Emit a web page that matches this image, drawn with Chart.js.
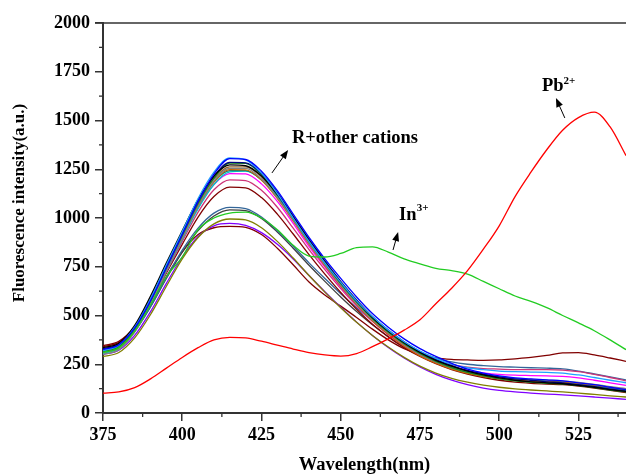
<!DOCTYPE html>
<html>
<head>
<meta charset="utf-8">
<script src="https://cdn.jsdelivr.net/npm/chart.js@4.4.1/dist/chart.umd.min.js"></script>
<style>
  html, body { margin: 0; padding: 0; background: #fff; }
  #wrap { width: 626px; height: 476px; position: relative; }
</style>
</head>
<body>
<div id="wrap"><canvas id="chart" width="626" height="476"></canvas></div>
<script>
// wavelength grid (nm)
const wavelengths = [375, 380, 385, 390, 395, 400, 405, 410, 415, 420, 425, 430, 435, 440, 445, 450, 455, 460,
    465, 470, 475, 480, 485, 490, 495, 500, 505, 510, 515, 520, 525, 530, 535, 540];

// R + Pb2+ and R + In3+
const pb = [102, 108, 130, 175, 230, 285, 335, 375, 388, 385, 368, 348, 328, 310, 298, 292, 305, 340,
    380, 425, 478, 560, 640, 730, 840, 960, 1110, 1235, 1350, 1450, 1515, 1543, 1467, 1320];
const inIII = [310, 335, 420, 555, 700, 800, 940, 1000, 1025, 1030, 1000, 940, 860, 805, 800, 818, 848, 852,
    825, 790, 765, 742, 730, 712, 675, 637, 600, 572, 540, 500, 462, 422, 375, 325];

// R + other cations
const other1 = [325, 350, 435, 575, 745, 915, 1085, 1225, 1305, 1300, 1240, 1140, 1020, 900, 790, 690, 595, 510,
    440, 380, 330, 290, 255, 225, 205, 190, 180, 175, 170, 165, 155, 145, 132, 120];
const other2 = [320, 348, 440, 585, 760, 930, 1100, 1235, 1308, 1298, 1230, 1125, 1000, 880, 770, 670, 575, 495,
    425, 365, 318, 280, 250, 232, 222, 215, 212, 210, 208, 205, 195, 182, 168, 155];
const other3 = [335, 358, 450, 600, 770, 935, 1095, 1215, 1272, 1268, 1215, 1120, 1005, 885, 775, 670, 575, 490,
    420, 360, 310, 270, 240, 215, 195, 180, 168, 160, 155, 150, 142, 132, 120, 110];
const other4 = [330, 352, 440, 585, 755, 920, 1085, 1215, 1285, 1283, 1228, 1130, 1010, 890, 780, 675, 580, 495,
    425, 365, 315, 275, 243, 218, 200, 185, 175, 168, 160, 155, 145, 135, 122, 112];
const other5 = [315, 340, 430, 575, 745, 910, 1075, 1205, 1282, 1280, 1222, 1122, 1000, 880, 770, 665, 570, 485,
    415, 355, 305, 265, 233, 208, 190, 175, 165, 158, 152, 148, 140, 130, 118, 108];
const other6 = [300, 325, 415, 560, 730, 895, 1060, 1190, 1255, 1255, 1200, 1105, 990, 870, 760, 655, 560, 478,
    410, 350, 300, 262, 232, 210, 195, 185, 178, 172, 168, 165, 157, 147, 135, 125];
const other7 = [310, 335, 422, 565, 735, 900, 1060, 1185, 1248, 1247, 1195, 1100, 985, 865, 755, 650, 555, 472,
    402, 342, 293, 255, 225, 203, 187, 175, 168, 163, 160, 158, 152, 143, 132, 122];
const other8 = [320, 345, 432, 575, 742, 905, 1062, 1185, 1243, 1243, 1195, 1105, 992, 875, 765, 662, 568, 485,
    415, 355, 305, 265, 235, 212, 196, 185, 176, 170, 165, 160, 152, 142, 130, 118];
const other9 = [305, 330, 418, 560, 728, 890, 1048, 1172, 1236, 1240, 1198, 1112, 1000, 882, 772, 668, 572, 488,
    418, 357, 307, 267, 236, 212, 195, 183, 173, 166, 160, 155, 146, 135, 123, 110];
const other10 = [318, 342, 428, 568, 735, 895, 1052, 1172, 1228, 1226, 1175, 1085, 972, 855, 748, 645, 552, 470,
    402, 345, 298, 262, 236, 218, 206, 198, 194, 192, 190, 188, 180, 168, 155, 142];
const other11 = [325, 348, 432, 565, 725, 880, 1030, 1145, 1196, 1192, 1142, 1055, 948, 838, 735, 638, 550, 472,
    405, 350, 305, 270, 248, 235, 228, 225, 222, 222, 222, 220, 212, 198, 182, 165];
const other12 = [340, 362, 440, 565, 718, 865, 1005, 1110, 1158, 1155, 1105, 1020, 918, 812, 712, 618, 532, 455,
    390, 335, 290, 253, 223, 200, 182, 168, 158, 152, 148, 145, 138, 128, 116, 105];
const other13 = [315, 338, 418, 545, 695, 835, 948, 1025, 1055, 1048, 1005, 935, 855, 770, 690, 612, 540, 473,
    412, 358, 315, 282, 262, 250, 243, 238, 235, 232, 230, 226, 215, 200, 185, 170];
const other14 = [320, 342, 420, 545, 690, 825, 935, 1010, 1042, 1038, 998, 928, 845, 758, 675, 595, 520, 452,
    392, 340, 296, 260, 232, 210, 193, 180, 170, 163, 158, 155, 148, 138, 127, 116];
const other15 = [290, 310, 385, 505, 650, 790, 900, 970, 995, 990, 950, 880, 795, 705, 620, 540, 465, 398,
    338, 285, 240, 205, 178, 158, 143, 132, 124, 118, 113, 108, 102, 95, 88, 82];
const other16 = [300, 322, 398, 520, 665, 800, 905, 960, 972, 962, 925, 865, 790, 705, 622, 542, 466, 398,
    336, 282, 236, 198, 168, 145, 128, 116, 108, 102, 97, 93, 88, 82, 76, 70];
const other17 = [345, 368, 442, 560, 700, 825, 915, 950, 957, 952, 915, 845, 760, 672, 605, 548, 490, 430,
    375, 330, 300, 283, 275, 272, 270, 272, 278, 285, 295, 308, 310, 298, 282, 265];
const other18 = [328, 350, 438, 582, 752, 915, 1075, 1200, 1262, 1262, 1210, 1115, 998, 878, 768, 662, 566, 482,
    412, 352, 302, 263, 232, 208, 190, 177, 168, 162, 158, 156, 150, 140, 128, 118];

const otherSeries = [other1, other2, other3, other4, other5, other6, other7, other8, other9,
    other10, other11, other12, other13, other14, other15, other16, other17, other18];
const otherColors = ['#0000ff', '#1fa0ff', '#000000', '#000080', '#1a8a1a', '#808080', '#cc6600', '#008080', '#00c8c8',
    '#ff00ff', '#cc3377', '#800000', '#336699', '#404040', '#808000', '#8000ff', '#800000', '#996633'];

const xTicks = [375, 400, 425, 450, 475, 500, 525];
const yTicks = [0, 250, 500, 750, 1000, 1250, 1500, 1750, 2000];

function toPoints(values) {
    return wavelengths.map((w, i) => ({ x: w, y: values[i] }));
}

const datasets = [
    { label: 'Pb2+', data: toPoints(pb), borderColor: '#ff0000' },
    { label: 'In3+', data: toPoints(inIII), borderColor: '#22cc22' }
];
otherSeries.forEach((s, i) => {
    datasets.push({ label: 'R+other ' + (i + 1), data: toPoints(s), borderColor: otherColors[i] });
});
datasets.forEach(d => {
    d.borderWidth = 1.3;
    d.pointRadius = 0;
    d.fill = false;
    d.cubicInterpolationMode = 'monotone';
});

const serif = '"Liberation Serif", "Times New Roman", serif';

// minor ticks, top frame line, y title
const framePlugin = {
    id: 'frame',
    afterDraw(chart) {
        const { ctx, scales, chartArea } = chart;
        ctx.save();
        ctx.strokeStyle = '#333';
        ctx.lineWidth = 1.5;
        ctx.beginPath();
        ctx.moveTo(chartArea.left - 8, chartArea.top);
        ctx.lineTo(chartArea.right, chartArea.top);
        ctx.stroke();

        ctx.lineWidth = 1.3;
        for (let v = 387.5; v < 540; v += 25) {
            const x = scales.x.getPixelForValue(v);
            ctx.beginPath();
            ctx.moveTo(x, chartArea.bottom);
            ctx.lineTo(x, chartArea.bottom + 4);
            ctx.stroke();
        }
        for (let v = 125; v < 2000; v += 250) {
            const y = scales.y.getPixelForValue(v);
            ctx.beginPath();
            ctx.moveTo(chartArea.left, y);
            ctx.lineTo(chartArea.left - 4, y);
            ctx.stroke();
        }

        // y axis title, sits a bit above the plot centre like the original
        ctx.translate(20, 203);
        ctx.rotate(-Math.PI / 2);
        ctx.fillStyle = '#000';
        ctx.font = 'bold 17px ' + serif;
        ctx.textAlign = 'center';
        ctx.textBaseline = 'middle';
        ctx.fillText('Fluorescence intensity(a.u.)', 0, 0);
        ctx.restore();
    }
};

// text labels with arrows
const labelPlugin = {
    id: 'labels',
    afterDatasetsDraw(chart) {
        const { ctx, scales } = chart;
        const px = v => scales.x.getPixelForValue(v);
        const py = v => scales.y.getPixelForValue(v);

        function arrow(x1, y1, x2, y2) {
            const a = Math.atan2(y2 - y1, x2 - x1);
            ctx.beginPath();
            ctx.moveTo(x1, y1);
            ctx.lineTo(x2 - 6 * Math.cos(a), y2 - 6 * Math.sin(a));
            ctx.stroke();
            ctx.beginPath();
            ctx.moveTo(x2, y2);
            ctx.lineTo(x2 - 9 * Math.cos(a) + 3.5 * Math.sin(a), y2 - 9 * Math.sin(a) - 3.5 * Math.cos(a));
            ctx.lineTo(x2 - 9 * Math.cos(a) - 3.5 * Math.sin(a), y2 - 9 * Math.sin(a) + 3.5 * Math.cos(a));
            ctx.closePath();
            ctx.fill();
        }

        ctx.save();
        ctx.fillStyle = '#000';
        ctx.strokeStyle = '#000';
        ctx.lineWidth = 1;
        ctx.textBaseline = 'middle';
        ctx.textAlign = 'left';

        ctx.font = 'bold 18.5px ' + serif;
        ctx.fillText('R+other cations', px(434.6), py(1410));
        arrow(px(428.3), py(1231), px(433.4), py(1349));

        ctx.fillText('In', px(468.4), py(1015));
        ctx.font = 'bold 11px ' + serif;
        ctx.fillText('3+', px(474.0), py(1048));
        arrow(px(466.5), py(836), px(468.1), py(928));

        ctx.font = 'bold 18.5px ' + serif;
        ctx.fillText('Pb', px(513.5), py(1677));
        ctx.font = 'bold 11px ' + serif;
        ctx.fillText('2+', px(520.3), py(1700));
        arrow(px(520.7), py(1513), px(517.9), py(1615));
        ctx.restore();
    }
};

new Chart(document.getElementById('chart'), {
    type: 'line',
    data: { datasets },
    options: {
        responsive: false,
        animation: false,
        layout: { padding: { top: 23, right: 0, left: 0, bottom: 0 } },
        plugins: { legend: { display: false }, tooltip: { enabled: false } },
        scales: {
            x: {
                type: 'linear',
                min: 375,
                max: 540,
                afterFit(s) { s.height = 63; },
                afterBuildTicks(s) { s.ticks = xTicks.map(v => ({ value: v })); },
                ticks: { color: '#000', font: { family: serif, size: 18, weight: 'bold' }, padding: 4, maxRotation: 0,
                    callback: v => String(v) },
                grid: { drawOnChartArea: false, drawTicks: true, tickLength: 8, color: '#333', lineWidth: 1.5 },
                border: { display: true, color: '#333', width: 2 },
                title: { display: true, text: 'Wavelength(nm)', color: '#000',
                    font: { family: serif, size: 18.5, weight: 'bold' }, padding: { top: 4, bottom: 0 } }
            },
            y: {
                min: 0,
                max: 2000,
                afterFit(s) { s.width = 103; },
                afterBuildTicks(s) { s.ticks = yTicks.map(v => ({ value: v })); },
                ticks: { color: '#000', font: { family: serif, size: 18, weight: 'bold' }, padding: 5,
                    callback: v => String(v) },
                grid: { drawOnChartArea: false, drawTicks: true, tickLength: 8, color: '#333', lineWidth: 1.5 },
                border: { display: true, color: '#333', width: 2 },
                title: { display: false }
            }
        }
    },
    plugins: [framePlugin, labelPlugin]
});
</script>
</body>
</html>
